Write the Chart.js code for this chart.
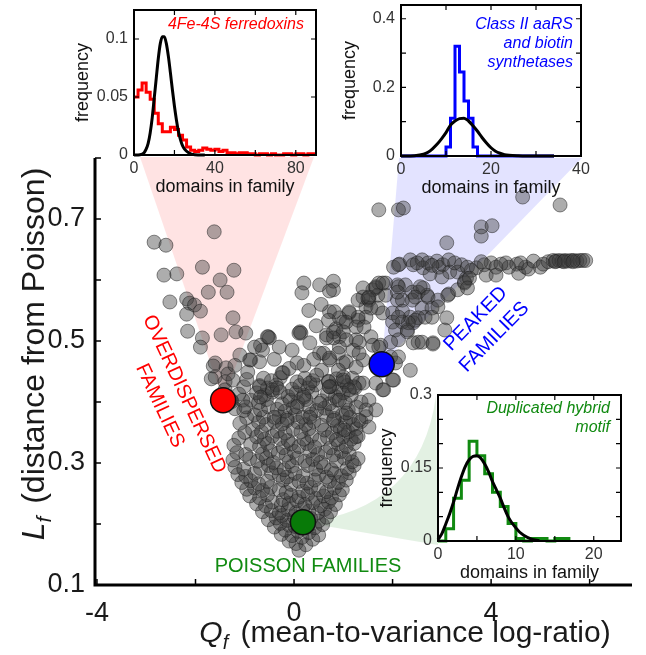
<!DOCTYPE html>
<html lang="en">
<head>
<meta charset="UTF-8" />
<title>Family size distributions: Lf vs Qf</title>
<script src="https://cdn.jsdelivr.net/npm/chart.js@4.4.1/dist/chart.umd.min.js"></script>
<style>
  body { margin: 0; background: #fff; }
  #wrap { position: relative; width: 646px; height: 655px; }
  #wrap canvas { position: absolute; }
</style>
</head>
<body>
<div id="wrap">
  <canvas id="mainChart" width="646" height="655" style="left:0;top:0"></canvas>
  <canvas id="ferroChart" width="260" height="200" style="left:70px;top:0"></canvas>
  <canvas id="aarsChart" width="316" height="200" style="left:330px;top:0"></canvas>
  <canvas id="hybridChart" width="266" height="215" style="left:380px;top:375px"></canvas>
</div>

<script>
  // ---- main scatter: [Qf, Lf] per family ----
  const coreFamilies = [
    [0.10,0.157],[0.04,0.168],[0.24,0.166],[-0.10,0.172],[0.38,0.175],[0.16,0.178],
    [-0.26,0.183],[-0.04,0.181],[0.30,0.186],[0.50,0.182],[-0.18,0.190],[0.08,0.188],
    [-0.40,0.195],[-0.10,0.198],[0.02,0.196],[0.42,0.194],[0.58,0.199],[-0.28,0.201],
    [-0.52,0.207],[-0.36,0.210],[-0.14,0.206],[0.00,0.212],[0.34,0.209],[0.50,0.205],[0.66,0.211],[-0.24,0.214],
    [-0.64,0.220],[-0.46,0.222],[-0.30,0.218],[-0.12,0.224],[0.04,0.219],[0.18,0.226],[0.30,0.221],[0.48,0.218],[0.62,0.224],[0.74,0.220],
    [-0.76,0.233],[-0.58,0.230],[-0.44,0.236],[-0.26,0.231],[-0.10,0.234],[0.06,0.238],[0.22,0.232],[0.38,0.235],[0.54,0.230],[0.70,0.236],[0.84,0.232],
    [-0.90,0.246],[-0.70,0.243],[-0.54,0.248],[-0.22,0.240],[-0.06,0.247],[0.10,0.244],[0.28,0.249],[0.44,0.242],[0.60,0.246],[0.76,0.243],[0.92,0.248],
    [-0.96,0.257],[-0.80,0.259],[-0.64,0.255],[-0.48,0.260],[-0.30,0.256],[-0.16,0.252],[0.18,0.254],[0.34,0.260],[0.50,0.256],[0.66,0.253],[0.82,0.259],[0.98,0.256],
    [-1.06,0.268],[-0.88,0.271],[-0.72,0.266],[-0.54,0.270],[-0.22,0.272],[-0.06,0.265],[0.10,0.270],[0.26,0.267],[0.42,0.272],[0.72,0.270],[0.90,0.268],[1.06,0.272],
    [-1.14,0.281],[-0.98,0.278],[-0.80,0.283],[-0.46,0.284],[-0.30,0.280],[-0.14,0.277],[0.02,0.283],[0.18,0.279],[0.50,0.280],[0.66,0.277],[0.82,0.283],[0.96,0.279],[1.12,0.284],
    [-1.20,0.293],[-1.02,0.290],[-0.68,0.291],[-0.52,0.296],[-0.36,0.292],[-0.20,0.289],[-0.04,0.295],[0.28,0.296],[0.44,0.290],[0.60,0.294],[0.76,0.289],[1.08,0.291],[1.22,0.296],
    [-1.24,0.305],[-0.90,0.307],[-0.74,0.303],[-0.56,0.308],[-0.42,0.301],[-0.10,0.302],[0.06,0.308],[0.22,0.303],[0.38,0.306],[0.54,0.301],[0.86,0.303],[1.02,0.308],[1.18,0.302],[1.30,0.307],
    [-1.16,0.317],[-0.98,0.314],[-0.64,0.315],[-0.48,0.320],[-0.32,0.316],[-0.16,0.313],[0.00,0.319],[0.32,0.320],[0.48,0.314],[0.64,0.318],[0.80,0.313],[0.96,0.319],[1.12,0.315],
    [-1.22,0.329],[-0.88,0.331],[-0.70,0.327],[-0.54,0.332],[-0.22,0.325],[-0.06,0.331],[0.10,0.327],[0.26,0.332],[0.42,0.326],[0.74,0.325],[0.90,0.331],[1.06,0.327],[1.22,0.332],
    [-1.12,0.341],[-0.76,0.343],[-0.60,0.339],[-0.44,0.344],[-0.28,0.340],[-0.12,0.337],[0.20,0.339],[0.36,0.344],[0.52,0.338],[0.68,0.342],[1.00,0.343],[1.16,0.339],[1.30,0.344],
    [-1.00,0.350],[-0.84,0.355],[-0.66,0.351],[-0.34,0.352],[-0.18,0.349],[-0.02,0.355],[0.14,0.351],[0.30,0.356],[0.62,0.354],[0.78,0.349],[0.94,0.355],[1.10,0.351],[1.26,0.356],
    [-1.10,0.365],[-0.72,0.367],[-0.56,0.363],[-0.40,0.368],[-0.24,0.364],[0.08,0.367],[0.24,0.363],[0.40,0.368],[0.56,0.362],[0.88,0.361],[1.04,0.367],[1.20,0.363],[1.36,0.368],
    [-0.96,0.374],[-0.80,0.379],[-0.62,0.375],[-0.30,0.376],[-0.14,0.373],[0.02,0.379],[0.18,0.375],[0.34,0.380],[0.66,0.378],[0.82,0.373],[0.98,0.379],[1.14,0.375],[1.46,0.376],
    [-1.20,0.389],[-1.02,0.386],[-0.68,0.387],[-0.52,0.392],[-0.34,0.388],[-0.18,0.385],[-0.02,0.391],[0.30,0.392],[0.46,0.386],[0.62,0.390],[0.78,0.385],[1.10,0.387],[1.26,0.392],
    [-1.26,0.401],[-0.88,0.403],[-0.72,0.399],[-0.56,0.404],[-0.24,0.397],[-0.08,0.403],[0.08,0.399],[0.24,0.404],[0.56,0.402],[0.72,0.397],[0.88,0.403],[1.04,0.399],[1.36,0.400],
    [-1.12,0.413],[-0.76,0.415],[-0.60,0.411],[-0.44,0.416],[-0.12,0.409],[0.04,0.415],[0.20,0.411],[0.36,0.416],[0.68,0.414],[0.84,0.409],[1.00,0.415],[1.16,0.411],
    [-1.02,0.425],[-0.70,0.427],[-0.54,0.423],[-0.36,0.428],[-0.04,0.421],[0.12,0.427],[0.28,0.423],[0.44,0.428],[0.76,0.426],[0.92,0.421],[1.08,0.427],[1.24,0.423],
    [-0.96,0.437],[-0.62,0.439],[-0.46,0.435],[-0.28,0.440],[0.06,0.433],[0.22,0.439],[0.38,0.435],[0.70,0.434],[0.86,0.438],[1.02,0.433],[1.18,0.439]
  ];
  const leftArmFamilies = [
    [-2.84,0.662],[-2.60,0.657],[-1.62,0.679],[-2.64,0.608],[-2.38,0.610],[-1.86,0.621],[-1.22,0.616],[-1.50,0.600],
    [-1.74,0.580],[-1.36,0.580],[-2.52,0.564],[-2.18,0.569],[-2.12,0.562],[-2.02,0.559],[-1.90,0.549],[-2.18,0.544],
    [-1.24,0.538],[-2.16,0.516],[-1.18,0.515],[-0.98,0.513],[-1.48,0.510],[-0.52,0.507],[-1.86,0.505],[-1.90,0.490],
    [-1.60,0.464],[-1.38,0.456],[-1.60,0.441],[-1.40,0.433],[-0.88,0.469],[-0.68,0.493],[-0.50,0.505],[-0.70,0.466],
    [-0.34,0.423],[-0.22,0.448],[-0.54,0.507],[-0.64,0.485],[-0.90,0.469],[-0.94,0.449],[-0.24,0.448],[-0.44,0.420],
    [-0.28,0.416],[-0.70,0.425],[-0.68,0.408],[-1.04,0.403],[-0.98,0.392],[-1.28,0.403],[-1.64,0.459],[-1.68,0.438],
    [-1.34,0.446],[-1.40,0.420],[-1.24,0.436],[-1.10,0.477],[-0.80,0.490],[-0.40,0.470],[-0.30,0.490],[-1.20,0.460]
  ];
  const midFamilies = [
    [0.20,0.595],[0.52,0.592],[0.80,0.598],[0.80,0.584],[0.16,0.579],[0.72,0.582],[0.12,0.515],[0.14,0.513],
    [0.72,0.548],[1.00,0.531],[1.12,0.546],[1.30,0.534],[1.46,0.556],[1.60,0.584],[1.52,0.567],[1.40,0.572],
    [0.66,0.510],[0.92,0.507],[1.26,0.502],[0.52,0.480],[0.72,0.469],[1.00,0.464],[1.20,0.485],[1.40,0.469],
    [0.56,0.452],[1.00,0.441],[1.32,0.431],[0.32,0.431],[0.72,0.425],[0.32,0.497],[-0.04,0.485],[0.06,0.464],
    [0.10,0.513],[0.66,0.505],[0.60,0.480],[0.46,0.444],[0.70,0.433],[0.52,0.398],[0.32,0.375],[-0.14,0.370],
    [-0.40,0.375],[0.06,0.392],[0.20,0.408],[0.20,0.460],[0.40,0.470],[-0.10,0.455],[0.90,0.480],[0.85,0.520],
    [0.45,0.525],[0.30,0.550],[0.55,0.560]
  ];
  const rightArmFamilies = [
    [1.72,0.595],[1.86,0.595],[2.10,0.592],[2.26,0.592],[2.40,0.580],[2.62,0.587],[2.70,0.575],[2.52,0.580],
    [1.86,0.575],[2.10,0.567],[2.20,0.567],[2.40,0.567],[2.60,0.554],[2.80,0.554],[2.92,0.567],[3.14,0.577],
    [3.10,0.538],[1.40,0.587],[1.66,0.587],[1.70,0.575],[1.30,0.567],[1.50,0.570],[1.56,0.554],[1.46,0.539],
    [1.30,0.539],[1.12,0.548],[1.06,0.531],[0.92,0.538],[0.82,0.548],[0.70,0.534],[0.80,0.515],[1.00,0.515],
    [1.26,0.523],[1.42,0.523],[1.70,0.554],[1.80,0.546],[2.00,0.546],[2.20,0.549],[2.00,0.531],[2.20,0.531],
    [2.36,0.539],[2.42,0.530],[2.06,0.518],[2.30,0.518],[2.52,0.538],
    [1.66,0.589],[1.80,0.595],[2.12,0.589],[2.10,0.580],[2.56,0.589],[2.72,0.572],[2.46,0.572],[2.66,0.539],
    [2.46,0.534],[2.32,0.530],[2.12,0.539],[2.30,0.515],[2.12,0.502],[1.96,0.498],[2.52,0.498],[2.80,0.539],
    [2.92,0.556],[3.12,0.575],[3.32,0.584],[3.06,0.518],[2.82,0.497],[2.36,0.452],[1.76,0.493],[1.56,0.507],
    [1.52,0.572],[2.06,0.464],[2.02,0.436],[1.80,0.420],[1.66,0.431],
    [1.96,0.474],[2.12,0.474],[2.42,0.497],[2.60,0.498],[2.82,0.495],[2.00,0.436],[1.82,0.420],[1.60,0.493],
    [1.72,0.490],[1.32,0.498],[1.06,0.502],[0.92,0.490],[0.80,0.505],[1.32,0.480],[1.06,0.466],[1.26,0.457],
    [0.90,0.452],[0.72,0.472],[1.40,0.431],[1.22,0.425],[1.52,0.403],[1.66,0.387],[1.46,0.387],[1.32,0.370],
    [1.52,0.359],[1.06,0.382],[0.92,0.403],[0.80,0.370],[1.02,0.354],[1.26,0.343],[0.86,0.338],[0.72,0.425],
    [1.00,0.436],[1.12,0.420]
  ];
  const plateauFamilies = [
    [2.02,0.621],[2.14,0.626],[2.36,0.633],[2.42,0.625],[2.60,0.633],[2.62,0.620],[2.72,0.628],[2.76,0.610],
    [2.90,0.631],[2.94,0.621],[3.02,0.625],[3.14,0.633],[3.16,0.613],[3.00,0.605],[3.40,0.625],[3.32,0.613],
    [3.50,0.603],[3.46,0.595],[3.60,0.616],[3.52,0.621],[3.70,0.620],[3.86,0.625],[3.90,0.608],[4.00,0.628],
    [4.10,0.621],[4.10,0.608],[4.30,0.628],[4.36,0.621],[4.52,0.626],[4.56,0.611],[4.70,0.621],[4.76,0.618],
    [4.86,0.631],[5.00,0.621],[5.06,0.626],[5.16,0.630],[5.26,0.632],[5.32,0.631],[5.38,0.632],[5.44,0.631],
    [5.50,0.632],[5.56,0.631],[5.62,0.632],[5.68,0.632],[5.74,0.631],[5.80,0.632],[5.86,0.632],[5.92,0.632],
    [5.30,0.630],[5.48,0.630],[5.66,0.630],[3.46,0.597],[3.56,0.603],[3.52,0.587],[2.12,0.625],[2.50,0.628],
    [2.80,0.624],[3.26,0.628],[3.80,0.630],[4.20,0.626],[4.60,0.628]
  ];
  const outlierFamilies = [
    [1.72,0.715],[2.12,0.715],[2.22,0.718],[3.10,0.661],[3.80,0.687],[4.02,0.689],[3.80,0.672],[4.64,0.736],[5.40,0.723]
  ];

  // highlighted families (Qf, Lf)
  const overdispersedFamily = [-1.44, 0.403];
  const peakedFamily = [1.78, 0.462];
  const poissonFamily = [0.18, 0.203];

  // main axes
  const qTicks = [-4, -2, 0, 2, 4, 6];
  const qTickLabels = [-4, 0, 4];
  const lTicks = [0.1, 0.2, 0.3, 0.4, 0.5, 0.6, 0.7, 0.8];
  const lTickLabels = [0.1, 0.3, 0.5, 0.7];

  // ---- inset 1: 4Fe-4S ferredoxins (bins of width 2 from 0) ----
  const ferroBinWidth = 2;
  const ferroHist = [0.050, 0.056, 0.062, 0.054, 0.048, 0.036, 0.027, 0.020, 0.020, 0.024, 0.022, 0.017, 0.013, 0.007,
    0.004, 0.003, 0.004, 0.006, 0.005, 0.004, 0.005, 0.003, 0.004, 0.002, 0.002, 0.001, 0.002, 0.002, 0.001, 0.001,
    0.000, 0.001, 0.001, 0.000, 0.001, 0.000, 0.000, 0.001, 0.001, 0.000, 0.001, 0.001, 0.000, 0.001, 0.001];
  const ferroCurveX = [0, 3, 5, 6, 7, 8, 9, 10, 11, 12, 13, 14, 15, 16, 17, 18, 19, 20, 21, 22, 23, 24, 25, 27, 30, 35];
  const ferroCurveY = [0, 0.0003, 0.002, 0.005, 0.010, 0.019, 0.032, 0.049, 0.066, 0.083, 0.096, 0.102, 0.102, 0.096,
    0.085, 0.071, 0.056, 0.042, 0.030, 0.020, 0.013, 0.008, 0.005, 0.002, 0.0003, 0];

  // ---- inset 2: Class II aaRS and biotin synthetases (bins of width 1) ----
  const aarsBinWidth = 1;
  const aarsHist = [0, 0, 0, 0, 0, 0, 0, 0, 0, 0, 0.026, 0.11, 0.32, 0.245, 0.16, 0.11, 0.026,
    0, 0, 0, 0, 0, 0, 0, 0, 0, 0, 0, 0, 0, 0, 0, 0, 0];
  const aarsCurveX = [0, 3, 5, 6, 7, 8, 9, 10, 11, 12, 13, 14, 15, 16, 17, 18, 19, 20, 21, 22, 23, 24, 26, 28, 34];
  const aarsCurveY = [0, 0.001, 0.005, 0.011, 0.021, 0.034, 0.050, 0.068, 0.090, 0.102, 0.109, 0.110, 0.102, 0.088,
    0.072, 0.054, 0.038, 0.024, 0.014, 0.008, 0.004, 0.002, 0.0005, 0, 0];

  // ---- inset 3: Duplicated hybrid motif (bins of width 1) ----
  const hybridBinWidth = 1;
  const hybridHist = [0, 0.025, 0.088, 0.125, 0.205, 0.175, 0.138, 0.100, 0.071, 0.036, 0.005, 0, 0.005, 0.005, 0, 0.005, 0.005];
  const hybridCurveX = [0, 0.5, 1, 1.5, 2, 2.5, 3, 3.5, 4, 4.5, 5, 5.5, 6, 6.5, 7, 7.5, 8, 8.5, 9, 9.5, 10, 10.5, 11, 12, 13];
  const hybridCurveY = [0.003, 0.015, 0.035, 0.056, 0.080, 0.107, 0.132, 0.153, 0.167, 0.174, 0.175, 0.170, 0.158, 0.142,
    0.122, 0.105, 0.088, 0.068, 0.050, 0.037, 0.027, 0.018, 0.012, 0.004, 0.001];

  const FONT = '"Liberation Sans", Arial, Helvetica, sans-serif';
  const RED = '#ff0000', BLUE = '#0000ff', GREEN = '#118a11';

  // ---------- main chart ----------
  const toPoint = ([q, l]) => ({ x: q, y: l });
  const allFamilies = [...coreFamilies, ...leftArmFamilies, ...midFamilies, ...rightArmFamilies,
    ...plateauFamilies, ...outlierFamilies].map(toPoint);

  function px(chart, pair) {
    return [chart.scales.x.getPixelForValue(pair[0]), chart.scales.y.getPixelForValue(pair[1])];
  }

  // shaded cones from the highlighted families to their insets
  const cones = {
    id: 'cones',
    beforeDatasetsDraw(chart) {
      const ctx = chart.ctx;
      const [rx, ry] = px(chart, overdispersedFamily);
      const [bx, by] = px(chart, peakedFamily);
      const [gx, gy] = px(chart, poissonFamily);
      ctx.save();
      ctx.fillStyle = 'rgba(255,0,0,0.11)';
      ctx.beginPath(); ctx.moveTo(140, 157); ctx.lineTo(314, 157); ctx.lineTo(rx, ry); ctx.closePath(); ctx.fill();
      ctx.fillStyle = 'rgba(0,0,255,0.11)';
      ctx.beginPath(); ctx.moveTo(399, 158); ctx.lineTo(582, 158); ctx.lineTo(bx, by); ctx.closePath(); ctx.fill();
      ctx.fillStyle = 'rgba(0,128,0,0.11)';
      ctx.beginPath(); ctx.moveTo(gx, gy); ctx.quadraticCurveTo(420, 510, 436, 396); ctx.lineTo(438, 545); ctx.closePath(); ctx.fill();
      ctx.restore();
    }
  };

  function drawRotated(ctx, lines, cx, cy, angleDeg, gap) {
    ctx.save();
    ctx.translate(cx, cy);
    ctx.rotate(angleDeg * Math.PI / 180);
    ctx.textAlign = 'center';
    ctx.textBaseline = 'middle';
    const off = (lines.length - 1) * gap / 2;
    lines.forEach((t, i) => ctx.fillText(t, 0, i * gap - off));
    ctx.restore();
  }

  // draws "X_f rest" with italic X and subscript f, centred on x, baseline y
  function subscriptTitle(ctx, main, sub, rest, x, y, big) {
    const small = Math.round(big * 0.66);
    ctx.font = 'italic ' + big + 'px ' + FONT;
    const w1 = ctx.measureText(main).width;
    ctx.font = 'italic ' + small + 'px ' + FONT;
    const w2 = ctx.measureText(sub).width + 4;
    ctx.font = big + 'px ' + FONT;
    const w3 = ctx.measureText(rest).width;
    const start = x - (w1 + w2 + w3) / 2;
    ctx.textAlign = 'left';
    ctx.textBaseline = 'alphabetic';
    ctx.font = 'italic ' + big + 'px ' + FONT;
    ctx.fillText(main, start, y);
    ctx.font = 'italic ' + small + 'px ' + FONT;
    ctx.fillText(sub, start + w1, y + 7);
    ctx.font = big + 'px ' + FONT;
    ctx.fillText(rest, start + w1 + w2, y);
  }

  const mainDecor = {
    id: 'mainDecor',
    afterDatasetsDraw(chart) {
      const ctx = chart.ctx;
      ctx.save();
      ctx.font = '20px ' + FONT;
      ctx.fillStyle = RED;
      drawRotated(ctx, ['OVERDISPERSED', 'FAMILIES'], 172, 400, 65, 27);
      ctx.fillStyle = BLUE;
      drawRotated(ctx, ['PEAKED', 'FAMILIES'], 485, 328, -45.5, 26);
      ctx.fillStyle = GREEN;
      ctx.textAlign = 'center';
      ctx.textBaseline = 'alphabetic';
      ctx.fillText('POISSON FAMILIES', 308, 572);
      ctx.restore();
    },
    afterDraw(chart) {
      const { ctx, chartArea: a, scales: { x, y } } = chart;
      ctx.save();
      ctx.strokeStyle = '#000';
      ctx.lineWidth = 1.5;
      ctx.beginPath();
      qTicks.forEach(v => { const p = x.getPixelForValue(v); ctx.moveTo(p, a.bottom); ctx.lineTo(p, a.bottom - 6); });
      lTicks.forEach(v => { const p = y.getPixelForValue(v); ctx.moveTo(a.left, p); ctx.lineTo(a.left + 6, p); });
      ctx.stroke();
      ctx.lineWidth = 3;
      ctx.beginPath();
      ctx.moveTo(a.left, a.top); ctx.lineTo(a.left, a.bottom); ctx.lineTo(a.right, a.bottom);
      ctx.stroke();

      ctx.fillStyle = '#1a1a1a';
      ctx.font = '27px ' + FONT;
      ctx.textAlign = 'center';
      ctx.textBaseline = 'alphabetic';
      qTickLabels.forEach(v => ctx.fillText(String(v), x.getPixelForValue(v), 621));
      ctx.textAlign = 'right';
      ctx.textBaseline = 'middle';
      lTickLabels.forEach(v => ctx.fillText(v.toFixed(1), a.left - 10, y.getPixelForValue(v)));

      subscriptTitle(ctx, 'Q', 'f', ' (mean-to-variance log-ratio)', 405, 642, 30);
      ctx.translate(44, 354);
      ctx.rotate(-Math.PI / 2);
      subscriptTitle(ctx, 'L', 'f', ' (distance from Poisson)', 0, 0, 32);
      ctx.restore();
    }
  };

  new Chart(document.getElementById('mainChart'), {
    type: 'scatter',
    data: {
      datasets: [
        { data: [toPoint(overdispersedFamily)], pointRadius: 12.5, backgroundColor: RED, borderColor: '#111', borderWidth: 1.5, order: 0 },
        { data: [toPoint(peakedFamily)], pointRadius: 12.5, backgroundColor: BLUE, borderColor: '#111', borderWidth: 1.5, order: 0 },
        { data: [toPoint(poissonFamily)], pointRadius: 12.5, backgroundColor: '#087a08', borderColor: '#111', borderWidth: 1.5, order: 0 },
        { data: allFamilies, pointRadius: 7, backgroundColor: 'rgba(60,60,60,0.42)', borderColor: 'rgba(30,30,30,0.5)', borderWidth: 1, order: 5 }
      ]
    },
    options: {
      responsive: false,
      animation: false,
      events: [],
      layout: { padding: { left: 95, right: 6, top: 158, bottom: 70 } },
      plugins: { legend: { display: false }, tooltip: { enabled: false } },
      scales: {
        x: { type: 'linear', display: false, min: -4.04, max: 6.86 },
        y: { type: 'linear', display: false, min: 0.1, max: 0.8 }
      }
    },
    plugins: [cones, mainDecor]
  });

  // ---------- insets ----------
  function histSteps(width, values) {
    const pts = values.map((v, i) => ({ x: i * width, y: v }));
    pts.push({ x: values.length * width, y: values[values.length - 1] });
    return pts;
  }
  const curvePoints = (xs, ys) => xs.map((v, i) => ({ x: v, y: ys[i] }));

  const insetFrame = {
    id: 'insetFrame',
    beforeDatasetsDraw(chart) {
      const { ctx, chartArea: a } = chart;
      ctx.save();
      ctx.fillStyle = '#fff';
      ctx.fillRect(a.left, a.top, a.width, a.height);
      ctx.restore();
    },
    afterDatasetsDraw(chart, args, o) {
      const { ctx, chartArea: a, scales: { x, y } } = chart;
      ctx.save();
      ctx.strokeStyle = '#000';
      ctx.lineWidth = 1.2;
      ctx.beginPath();
      o.xTicks.forEach(v => {
        const p = x.getPixelForValue(v);
        ctx.moveTo(p, a.bottom); ctx.lineTo(p, a.bottom - 5);
        ctx.moveTo(p, a.top); ctx.lineTo(p, a.top + 5);
      });
      o.yTicks.forEach(v => {
        const p = y.getPixelForValue(v);
        ctx.moveTo(a.left, p); ctx.lineTo(a.left + 5, p);
        ctx.moveTo(a.right, p); ctx.lineTo(a.right - 5, p);
      });
      ctx.stroke();
      ctx.lineWidth = 2;
      ctx.strokeRect(a.left, a.top, a.width, a.height);

      ctx.fillStyle = '#333';
      ctx.font = '16px ' + FONT;
      ctx.textAlign = 'center';
      ctx.textBaseline = 'top';
      o.xLabels.forEach(v => ctx.fillText(String(v), x.getPixelForValue(v), a.bottom + 6));
      ctx.textAlign = 'right';
      ctx.textBaseline = 'middle';
      o.yLabels.forEach(v => ctx.fillText(String(v), a.left - 6, y.getPixelForValue(v)));

      ctx.fillStyle = '#111';
      ctx.font = '18px ' + FONT;
      ctx.textAlign = 'center';
      ctx.textBaseline = 'alphabetic';
      ctx.fillText('domains in family', (a.left + a.right) / 2, a.bottom + 37);
      ctx.save();
      ctx.translate(a.left - 51, (a.top + a.bottom) / 2);
      ctx.rotate(-Math.PI / 2);
      ctx.textBaseline = 'middle';
      ctx.fillText('frequency', 0, 0);
      ctx.restore();

      ctx.fillStyle = o.noteColor;
      ctx.font = 'italic 16px ' + FONT;
      ctx.textAlign = 'right';
      ctx.textBaseline = 'alphabetic';
      o.note.forEach((t, i) => ctx.fillText(t, a.right - o.noteRight, a.top + o.noteTop + i * 19));
      ctx.restore();
    }
  };

  function insetChart(id, hist, color, curve, xMax, yMax, frame) {
    return new Chart(document.getElementById(id), {
      type: 'line',
      data: {
        datasets: [
          { data: curve, borderColor: '#000', borderWidth: 3, pointRadius: 0, cubicInterpolationMode: 'monotone', clip: 4, order: 0 },
          { data: hist, borderColor: color, borderWidth: 3, pointRadius: 0, stepped: true, clip: 4, order: 1 }
        ]
      },
      options: {
        responsive: false,
        animation: false,
        events: [],
        layout: { padding: frame.padding },
        plugins: { legend: { display: false }, tooltip: { enabled: false }, insetFrame: frame },
        scales: {
          x: { type: 'linear', display: false, min: 0, max: xMax },
          y: { type: 'linear', display: false, min: 0, max: yMax }
        }
      },
      plugins: [insetFrame]
    });
  }

  insetChart('ferroChart', histSteps(ferroBinWidth, ferroHist), RED, curvePoints(ferroCurveX, ferroCurveY), 90, 0.125, {
    padding: { left: 64, right: 14, top: 10, bottom: 45 },
    xTicks: [20, 40, 60, 80], xLabels: [0, 40, 80],
    yTicks: [0.05, 0.1], yLabels: [0, 0.05, 0.1],
    note: ['4Fe-4S ferredoxins'], noteColor: RED, noteRight: 12, noteTop: 19
  });

  insetChart('aarsChart', histSteps(aarsBinWidth, aarsHist), BLUE, curvePoints(aarsCurveX, aarsCurveY), 40, 0.44, {
    padding: { left: 71, right: 65, top: 5, bottom: 44 },
    xTicks: [10, 20, 30], xLabels: [0, 20, 40],
    yTicks: [0.1, 0.2, 0.3, 0.4], yLabels: [0, 0.2, 0.4],
    note: ['Class II aaRS', 'and biotin', 'synthetases'], noteColor: BLUE, noteRight: 8, noteTop: 24
  });

  insetChart('hybridChart', histSteps(hybridBinWidth, hybridHist), GREEN, curvePoints(hybridCurveX, hybridCurveY), 23.5, 0.3, {
    padding: { left: 58, right: 25, top: 20, bottom: 49 },
    xTicks: [5, 10, 15, 20], xLabels: [0, 10, 20],
    yTicks: [0.05, 0.1, 0.15, 0.2, 0.25], yLabels: [0, 0.15, 0.3],
    note: ['Duplicated hybrid', 'motif'], noteColor: GREEN, noteRight: 11, noteTop: 18
  });
</script>
</body>
</html>
